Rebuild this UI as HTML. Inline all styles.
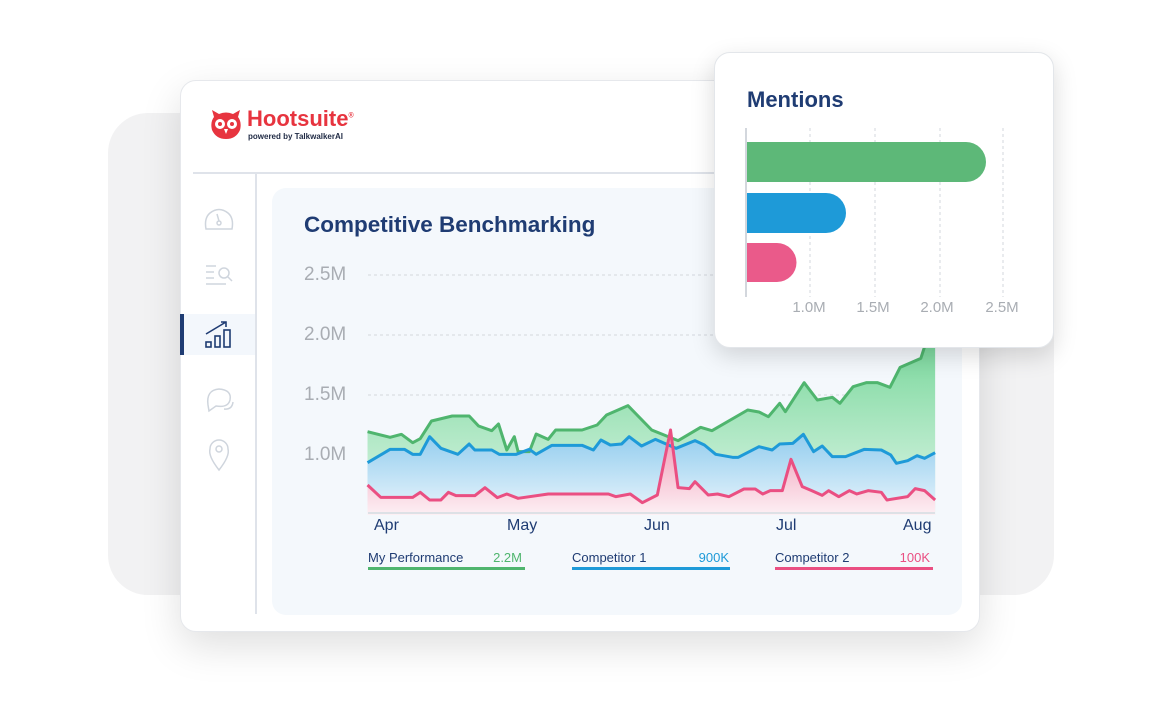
<!DOCTYPE html>
<html><head><meta charset="utf-8"><style>
body{margin:0;width:1160px;height:710px;background:#fff;position:relative;overflow:hidden;font-family:"Liberation Sans",sans-serif}
.a{position:absolute}
</style></head><body>
<div class="a" style="left:108px;top:113px;width:946px;height:482px;background:#f2f2f3;border-radius:40px"></div>
<div class="a" style="left:180px;top:80px;width:800px;height:552px;background:#fff;border-radius:16px;box-shadow:0 14px 40px rgba(0,0,0,.13);border:1px solid #e6e8ec;box-sizing:border-box"></div>
<div class="a" style="left:193px;top:172px;width:530px;height:2px;background:#dfe3ea"></div>
<div class="a" style="left:255px;top:174px;width:2px;height:440px;background:#dfe3ea"></div>
<div class="a" style="left:180px;top:314px;width:75px;height:41px;background:#f3f7fc"></div>
<div class="a" style="left:180px;top:314px;width:4px;height:41px;background:#1f3c73"></div>
<!-- logo -->
<svg class="a" style="left:209px;top:108px" width="34" height="32" viewBox="0 0 34 32"><path d="M3 2 L10 6 Q17 3 24 6 L31 2 L29 9 Q33 14 31 22 Q27 31 17 31 Q7 31 3 22 Q1 14 5 9 Z" fill="#e7343f"/><circle cx="11" cy="16" r="5" fill="#fff"/><circle cx="23" cy="16" r="5" fill="#fff"/><circle cx="11" cy="16" r="2" fill="#e7343f"/><circle cx="23" cy="16" r="2" fill="#e7343f"/><path d="M15 21 L17 26 L19 21Z" fill="#fff"/></svg>
<div class="a" style="left:247px;top:106px;font-size:22px;font-weight:bold;color:#e7343f">Hootsuite<sup style="font-size:7px">®</sup></div>
<div class="a" style="left:248px;top:132px;font-size:8px;font-weight:bold;color:#1f2a44">powered by TalkwalkerAI</div>
<!-- sidebar icons -->
<svg class="a" style="left:200px;top:200px" width="40" height="280" fill="none" stroke="#cfd5dd" stroke-width="1.5">
<path d="M6 29 Q4 18 10 13 Q19 6 28 13 Q34 18 32 29 Z"/><circle cx="19" cy="23" r="2"/><path d="M19 21 L17 14"/>
<path d="M6 66h10M6 72h8M6 78h8M6 84h20"/><circle cx="24" cy="73" r="5"/><path d="M28 77l4 4"/>
<path d="M8 205 Q6 190 19 189 Q32 190 30 200 Q28 208 16 206 L9 211 Z"/><path d="M24 209 Q32 210 33 202"/>
<path d="M19 270 Q8 256 10 249 A9 9 0 0 1 28 249 Q30 256 19 270Z"/><circle cx="19" cy="249" r="3"/>
</svg>
<svg class="a" style="left:204px;top:320px" width="30" height="30" fill="none" stroke="#1f3c73" stroke-width="1.6"><rect x="2" y="22" width="5" height="5"/><rect x="11" y="16" width="5" height="11"/><rect x="20" y="10" width="6" height="17"/><path d="M2 14 L22 2 M17 2h5v5"/></svg>
<!-- chart panel -->
<div class="a" style="left:272px;top:188px;width:690px;height:427px;background:#f4f8fc;border-radius:14px"></div>
<div class="a" style="left:304px;top:212px;font-size:22.5px;font-weight:bold;color:#1f3c73">Competitive Benchmarking</div>
<div class="a" style="left:304px;top:263px;font-size:19px;color:#a9adb3;line-height:24px">2.5M</div>
<div class="a" style="left:304px;top:323px;font-size:19px;color:#a9adb3;line-height:24px">2.0M</div>
<div class="a" style="left:304px;top:383px;font-size:19px;color:#a9adb3;line-height:24px">1.5M</div>
<div class="a" style="left:304px;top:443px;font-size:19px;color:#a9adb3;line-height:24px">1.0M</div>
<svg class="a" style="left:0;top:0" width="1160" height="710">
<defs>
<linearGradient id="g" x1="0" y1="0" x2="0" y2="1"><stop offset="0" stop-color="#6fd494"/><stop offset="1" stop-color="#dff6e8"/></linearGradient>
<linearGradient id="b" x1="0" y1="0" x2="0" y2="1"><stop offset="0" stop-color="#93cdee"/><stop offset="1" stop-color="#eaf5fc"/></linearGradient>
<linearGradient id="p" x1="0" y1="0" x2="0" y2="1"><stop offset="0" stop-color="#f095b2"/><stop offset="1" stop-color="#fdf0f4"/></linearGradient>
</defs>
<g stroke="#d3d7dd" stroke-dasharray="3 3" stroke-width="1"><path d="M368 275H935M368 335H935M368 395H935M368 455H935"/></g>
<g transform="translate(360,340) scale(0.3764,0.3333)" stroke-width="3" stroke-linejoin="round">
<path fill="url(#g)" d="M20 275 L80 292 110 283 140 308 160 296 190 243 245 228 290 228 315 258 350 272 368 252 390 330 410 290 420 335 450 335 468 282 500 298 520 270 590 270 630 255 655 225 712 197 775 270 845 302 905 262 935 272 1030 210 1060 216 1085 230 1115 190 1130 215 1180 128 1215 180 1255 172 1275 190 1310 140 1345 128 1375 128 1408 142 1435 82 1490 55 1500 20 1528 0 1528 -50 L1528 525 L20 525Z"/>
<path fill="url(#b)" d="M20 368 L80 328 118 328 140 343 160 343 185 290 215 325 260 343 290 312 305 330 350 330 370 343 415 343 450 328 468 343 510 316 590 316 620 330 640 300 665 315 695 312 715 290 748 318 785 298 840 325 890 302 915 315 945 343 990 352 1005 352 1060 320 1095 330 1115 312 1150 310 1178 283 1205 335 1228 318 1255 350 1290 350 1340 328 1385 330 1410 345 1425 370 1455 362 1480 347 1500 355 1528 338 L1528 525 L20 525Z"/>
<path fill="url(#p)" d="M20 435 L55 472 140 472 160 457 185 480 215 480 235 457 255 467 305 467 332 443 365 473 390 462 420 475 500 462 660 462 680 470 718 462 750 488 790 465 825 270 845 443 875 446 890 425 925 465 950 462 980 470 1020 447 1050 447 1070 462 1090 452 1122 452 1145 358 1175 440 1200 452 1228 466 1245 452 1272 470 1300 452 1320 462 1350 452 1385 457 1400 480 1455 470 1475 446 1500 452 1528 480 L1528 525 L20 525Z"/>
<path fill="none" stroke="#4fb56e" vector-effect="non-scaling-stroke" d="M20 275 L80 292 110 283 140 308 160 296 190 243 245 228 290 228 315 258 350 272 368 252 390 330 410 290 420 335 450 335 468 282 500 298 520 270 590 270 630 255 655 225 712 197 775 270 845 302 905 262 935 272 1030 210 1060 216 1085 230 1115 190 1130 215 1180 128 1215 180 1255 172 1275 190 1310 140 1345 128 1375 128 1408 142 1435 82 1490 55 1500 20 1528 0 1528 -50"/>
<path fill="none" stroke="#1e9ad8" vector-effect="non-scaling-stroke" d="M20 368 L80 328 118 328 140 343 160 343 185 290 215 325 260 343 290 312 305 330 350 330 370 343 415 343 450 328 468 343 510 316 590 316 620 330 640 300 665 315 695 312 715 290 748 318 785 298 840 325 890 302 915 315 945 343 990 352 1005 352 1060 320 1095 330 1115 312 1150 310 1178 283 1205 335 1228 318 1255 350 1290 350 1340 328 1385 330 1410 345 1425 370 1455 362 1480 347 1500 355 1528 338"/>
<path fill="none" stroke="#ea4f82" vector-effect="non-scaling-stroke" d="M20 435 L55 472 140 472 160 457 185 480 215 480 235 457 255 467 305 467 332 443 365 473 390 462 420 475 500 462 660 462 680 470 718 462 750 488 790 465 825 270 845 443 875 446 890 425 925 465 950 462 980 470 1020 447 1050 447 1070 462 1090 452 1122 452 1145 358 1175 440 1200 452 1228 466 1245 452 1272 470 1300 452 1320 462 1350 452 1385 457 1400 480 1455 470 1475 446 1500 452 1528 480"/>
</g>
<path d="M368 513H935" stroke="#dde1e6" stroke-width="2"/>
<g fill="#1f3c73" font-size="16" font-family="Liberation Sans,sans-serif">
<text x="374" y="530">Apr</text><text x="507" y="530">May</text><text x="644" y="530">Jun</text><text x="776" y="530">Jul</text><text x="903" y="530">Aug</text>
</g>
<g font-size="13" font-family="Liberation Sans,sans-serif">
<text x="368" y="562" fill="#1f3c73">My Performance</text><text x="522" y="562" fill="#4fb56e" text-anchor="end">2.2M</text>
<text x="572" y="562" fill="#1f3c73">Competitor 1</text><text x="729" y="562" fill="#1e9ad8" text-anchor="end">900K</text>
<text x="775" y="562" fill="#1f3c73">Competitor 2</text><text x="930" y="562" fill="#ea4f82" text-anchor="end">100K</text>
</g>
<rect x="368" y="567" width="157" height="3" fill="#4fb56e"/>
<rect x="572" y="567" width="158" height="3" fill="#1e9ad8"/>
<rect x="775" y="567" width="158" height="3" fill="#ea4f82"/>
</svg>
<!-- Mentions card -->
<div class="a" style="left:714px;top:52px;width:340px;height:296px;background:#fff;border-radius:16px;box-shadow:0 8px 24px rgba(0,0,0,.15);border:1px solid #e3e6ea;box-sizing:border-box"></div>
<div class="a" style="left:747px;top:87px;font-size:22px;font-weight:bold;color:#1f3c73">Mentions</div>
<svg class="a" style="left:714px;top:52px" width="340" height="296">
<g stroke="#d3d7dd" stroke-dasharray="3 3"><path d="M96 76V245M161 76V245M226 76V245M289 76V245"/></g>
<path d="M32 76V245" stroke="#d3d7dd" stroke-width="2"/>
<path d="M33 90H252A20 20 0 0 1 252 130H33Z" fill="#5db878"/>
<path d="M33 141H112A20 20 0 0 1 112 181H33Z" fill="#1e9ad8"/>
<path d="M33 191H63A19.5 19.5 0 0 1 63 230H33Z" fill="#ea5a8a"/>
<g fill="#a9adb3" font-size="15" font-family="Liberation Sans,sans-serif" text-anchor="middle">
<text x="95" y="260">1.0M</text><text x="159" y="260">1.5M</text><text x="223" y="260">2.0M</text><text x="288" y="260">2.5M</text></g>
</svg>
</body></html>
